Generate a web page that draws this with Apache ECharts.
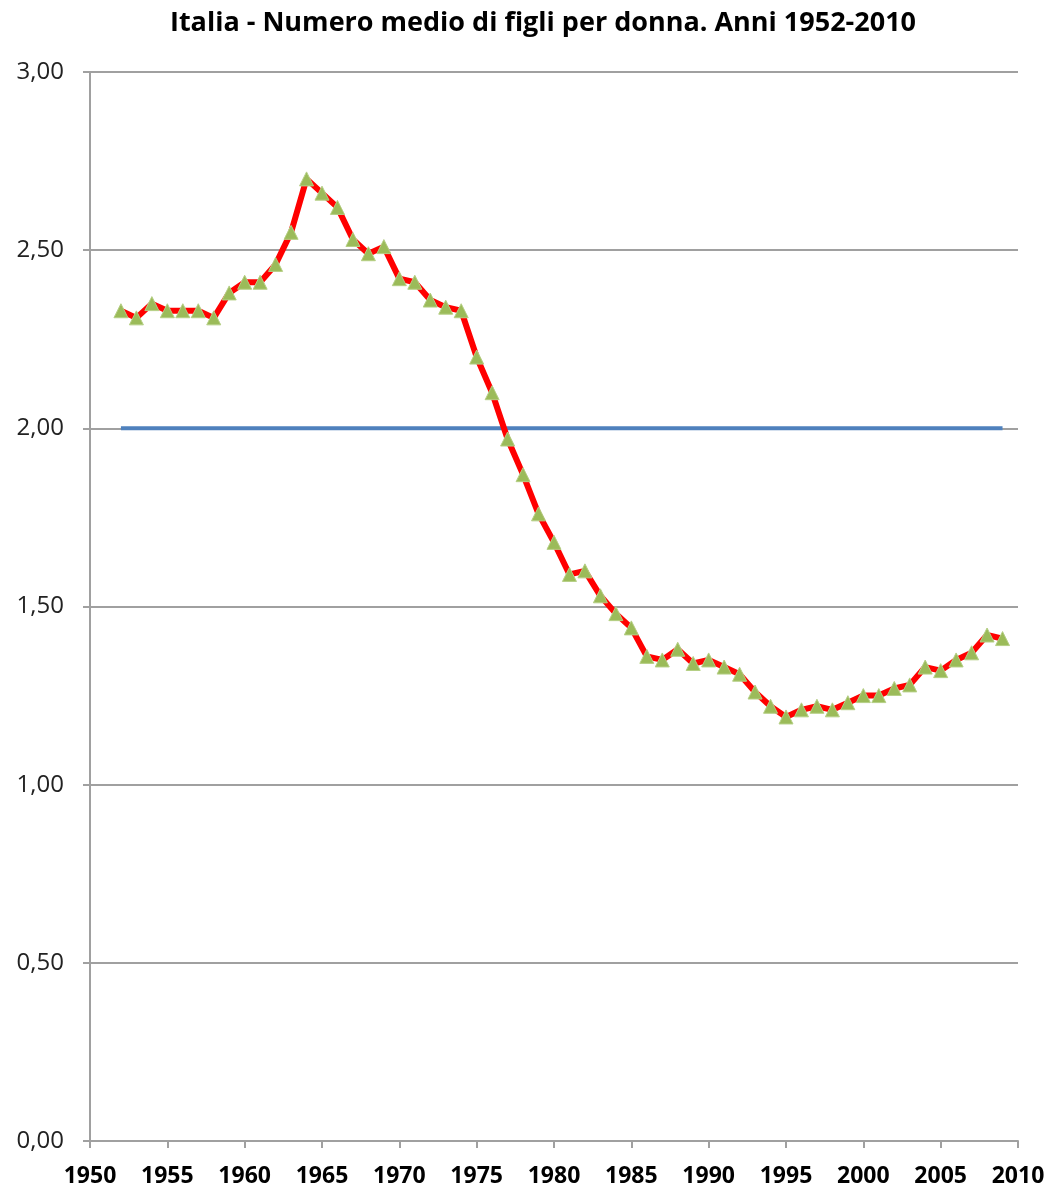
<!DOCTYPE html>
<html>
<head>
<meta charset="utf-8">
<script src="https://cdn.jsdelivr.net/npm/echarts@6/dist/echarts.min.js"></script>
<style>
html,body{margin:0;padding:0;background:#fff;}
#chart{width:1055px;height:1188px;}
</style>
</head>
<body>
<div id="chart"></div>
<script>
var title = 'Italia - Numero medio di figli per donna. Anni 1952-2010';
var years = [1952,1953,1954,1955,1956,1957,1958,1959,1960,1961,1962,1963,1964,1965,1966,1967,1968,1969,1970,1971,1972,1973,1974,1975,1976,1977,1978,1979,1980,1981,1982,1983,1984,1985,1986,1987,1988,1989,1990,1991,1992,1993,1994,1995,1996,1997,1998,1999,2000,2001,2002,2003,2004,2005,2006,2007,2008,2009];
var tfr = [2.33,2.31,2.35,2.33,2.33,2.33,2.31,2.38,2.41,2.41,2.46,2.55,2.70,2.66,2.62,2.53,2.49,2.51,2.42,2.41,2.36,2.34,2.33,2.20,2.10,1.97,1.87,1.76,1.68,1.59,1.60,1.53,1.48,1.44,1.36,1.35,1.38,1.34,1.35,1.33,1.31,1.26,1.22,1.19,1.21,1.22,1.21,1.23,1.25,1.25,1.27,1.28,1.33,1.32,1.35,1.37,1.42,1.41];
var replacementLevel = 2.00;
var xMin = 1950, xMax = 2010, xStep = 5;
var yMin = 0, yMax = 3, yStep = 0.5;

var tfrData = years.map(function(y, i){ return [y, tfr[i]]; });
var refData = years.map(function(y){ return [y, replacementLevel]; });

var chart = echarts.init(document.getElementById('chart'), null, {renderer:'canvas'});
chart.setOption({
  animation:false,
  backgroundColor:'#ffffff',
  title:{
    text:title, left:538, textAlign:'center', top:5,
    textStyle:{fontFamily:'Open Sans', fontWeight:'bold', fontSize:27, color:'#000'}
  },
  grid:{left:90, right:37, top:72, bottom:47, containLabel:false, outerBoundsMode:'none'},
  xAxis:{
    type:'value', min:xMin, max:xMax, interval:xStep,
    axisLine:{show:true, lineStyle:{color:'#a0a0a0', width:2}},
    axisTick:{show:true, length:7, lineStyle:{color:'#a0a0a0', width:2}},
    splitLine:{show:false},
    axisLabel:{formatter:function(v){return String(v);}, fontFamily:'Open Sans', fontWeight:'bold', fontSize:23, color:'#000', margin:24}
  },
  yAxis:{
    type:'value', min:yMin, max:yMax, interval:yStep,
    axisLine:{show:true, lineStyle:{color:'#a0a0a0', width:2}},
    axisTick:{show:true, length:7, lineStyle:{color:'#a0a0a0', width:2}},
    splitLine:{show:true, lineStyle:{color:'#a0a0a0', width:2}},
    axisLabel:{formatter:function(v){return v.toFixed(2).replace('.', ',');}, fontFamily:'Open Sans', fontSize:24, color:'#222', margin:26}
  },
  series:[
    {
      type:'line', data:refData, showSymbol:false, symbol:'none',
      lineStyle:{color:'#4f81bd', width:4}, z:2
    },
    {
      type:'line', data:tfrData, symbol:'triangle', symbolSize:14,
      itemStyle:{color:'#9bbb59', borderColor:'#b5cf85', borderWidth:1},
      lineStyle:{color:'#ff0000', width:6}, z:3
    }
  ]
});
</script>
</body>
</html>
